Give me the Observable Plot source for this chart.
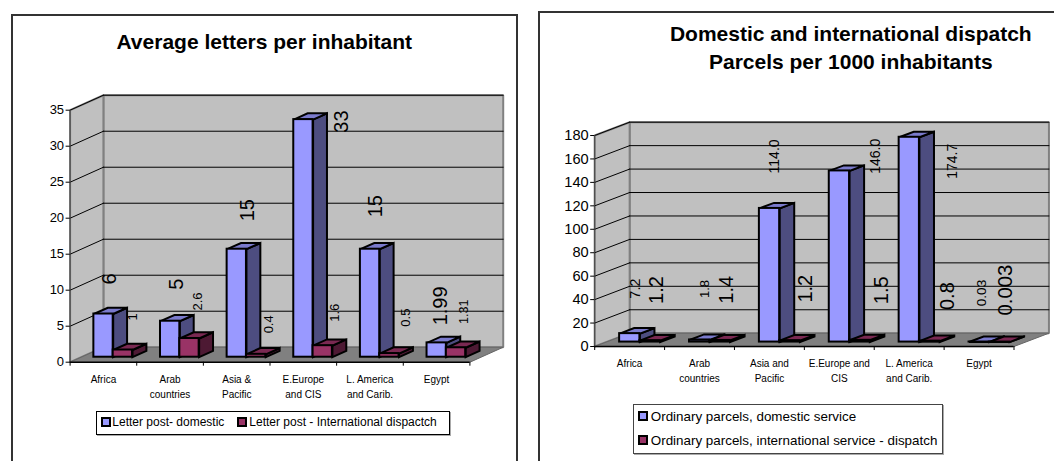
<!DOCTYPE html>
<html>
<head>
<meta charset="utf-8">
<script src="https://cdn.jsdelivr.net/npm/d3@7"></script>
<script src="https://cdn.jsdelivr.net/npm/@observablehq/plot@0.6"></script>
<style>
  html, body { margin: 0; padding: 0; background: #fff; }
  body { font-family: "Liberation Sans", Arial, sans-serif; color: #000; }
  #page { position: relative; width: 1054px; height: 461px; overflow: hidden; }
  #page svg { position: absolute; top: 0; overflow: visible; background: transparent; }
  .frame { position: absolute; border: 2px solid #333; box-sizing: border-box; background: #fff; }
  .title { position: absolute; transform: translate(-50%, -50%); font-weight: bold; font-size: 21px; white-space: nowrap; z-index: 2; }
  .legend { position: absolute; background: #fff; box-sizing: border-box; z-index: 2; }
  .entry { position: absolute; white-space: nowrap; transform: translateY(-50%); }
  .swatch { position: absolute; box-sizing: border-box; border: 2px solid #000; transform: translateY(-50%); }
</style>
</head>
<body>
<div id="page"></div>
<script>
// Letters per inhabitant
const letterCategories = ["Africa", "Arab\ncountries", "Asia &\nPacific", "E.Europe\nand CIS", "L. America\nand Carib.", "Egypt"];
const letterDomestic = [6, 5, 15, 33, 15, 1.99];
const letterInternational = [1, 2.6, 0.4, 1.6, 0.5, 1.31];
const letterTicks = [0, 5, 10, 15, 20, 25, 30, 35];

// Parcels per 1000 inhabitants
const parcelCategories = ["Africa", "Arab\ncountries", "Asia and\nPacific", "E.Europe and\nCIS", "L. America\nand Carib.", "Egypt"];
const parcelDomestic = [7.2, 1.8, 114, 146, 174.7, 0.03];
const parcelInternational = [1.2, 1.4, 1.2, 1.5, 0.8, 0.003];
const parcelTicks = [0, 20, 40, 60, 80, 100, 120, 140, 160, 180];

// Data-label placement, in pixels from the top-centre of each bar: [dx, dy, font size]
const letterDomesticLabels = [[6, -35, 20], [6.5, -37, 20], [10.4, -39, 20], [38.5, 2, 20], [5.7, -43, 20], [3.5, -37, 20]];
const letterInternationalLabels = [[10, -33, 13], [8.7, -37, 13], [12.6, -30, 13], [12.4, -33, 13], [16.2, -36, 13], [8, -36, 12.5]];
const parcelDomesticLabels = [[5.6, -45, 14.4], [4.7, -51, 13], [4.6, -52, 14], [36, -14.6, 14], [43.3, 24, 14], [2.6, -49, 13.7]];
const parcelInternationalLabels = [[7, -50.6, 20], [6.8, -50.7, 20], [15.8, -52, 20], [22, -50, 20], [18, -45, 20], [6, -52, 20.4]];

// Series palette: front, side and top faces of a bar
const blueFaces = { front: "#9999ff", side: "#4d4d80", top: "#7a7acc" };
const redFaces = { front: "#993366", side: "#4d1933", top: "#7a2952" };

// Oblique box geometry: bars sit between these fractions of the floor's depth
const depthNear = 1 / 3;
const depthFar = 0.75;
const barGap = 0.19;
const barWidth = 0.29;
const wallDepthX = 0.5;

const labelText = (v) => (v >= 100 ? v.toFixed(1) : String(v));

function drawChart({categories, domestic, international, ticks, domesticLabels, internationalLabels,
                    left, width, marginLeft, marginRight, marginTop, marginBottom, wallDepthY, tickFont}) {
  const yMax = d3.max(ticks);
  const n = categories.length;
  const at = (x, y, d) => ({x: x + d * wallDepthX, y: y + d * wallDepthY});
  const poly = (rows) => rows.flatMap((pts, id) => pts.map((p) => ({...at(...p), id})));

  const grid = ticks.filter((t) => t > 0).flatMap((t) => [
    [[0, t, 0], [0, t, 1]],
    [[0, t, 1], [n, t, 1]]
  ]);

  const faceRows = (values, slot) => values.map((v, i) => ({
    v, i,
    x1: i + barGap + slot * barWidth,
    x2: i + barGap + (slot + 1) * barWidth
  }));
  const sideFaces = (rows) => poly(rows.map(({v, x2}) => [[x2, 0, depthNear], [x2, 0, depthFar], [x2, v, depthFar], [x2, v, depthNear]]));
  const topFaces = (rows) => poly(rows.map(({v, x1, x2}) => [[x1, v, depthNear], [x2, v, depthNear], [x2, v, depthFar], [x1, v, depthFar]]));

  const face = (data, fill) => Plot.line(data, {
    x: "x", y: "y", z: "id", curve: "linear-closed", fill, stroke: "#000",
    strokeWidth: 2, strokeLinejoin: "miter", strokeMiterlimit: 4
  });
  const front = (rows, fill) => Plot.rect(rows, {
    x1: (d) => d.x1 + depthNear * wallDepthX,
    x2: (d) => d.x2 + depthNear * wallDepthX,
    y1: depthNear * wallDepthY,
    y2: (d) => d.v + depthNear * wallDepthY,
    fill, stroke: "#000", strokeWidth: 2
  });
  const labels = (rows, placement) => rows.map((row, i) => Plot.text([row], {
    x: (d) => (d.x1 + d.x2) / 2 + depthNear * wallDepthX,
    y: (d) => d.v + depthNear * wallDepthY,
    text: (d) => labelText(d.v),
    rotate: -90,
    dx: placement[i][0],
    dy: placement[i][1],
    fontSize: placement[i][2],
    fill: "#000"
  }));

  const blue = faceRows(domestic, 0);
  const red = faceRows(international, 1);

  const wall = (pts, fill) => Plot.line(poly([pts]), {
    x: "x", y: "y", z: "id", curve: "linear-closed", fill,
    stroke: "#808080", strokeWidth: 2, strokeLinejoin: "miter"
  });

  const svg = Plot.plot({
    width, height: 461, marginLeft, marginRight, marginTop, marginBottom,
    x: {domain: [0, n]},
    y: {domain: [0, yMax]},
    style: {fontFamily: "'Liberation Sans', Arial, sans-serif", color: "#000", background: "transparent"},
    marks: [
      wall([[0, 0, 1], [n, 0, 1], [n, yMax, 1], [0, yMax, 1]], "#c0c0c0"),
      wall([[0, 0, 0], [0, 0, 1], [0, yMax, 1], [0, yMax, 0]], "#c0c0c0"),
      Plot.line(poly([[[0, 0, 0], [0, 0, 1], [n, 0, 1], [n, 0, 0]]]), {
        x: "x", y: "y", z: "id", curve: "linear-closed", fill: "#808080", stroke: "#666", strokeWidth: 1
      }),
      Plot.line(poly(grid), {x: "x", y: "y", z: "id", stroke: "#000", strokeWidth: 1}),
      face(sideFaces(blue), blueFaces.side),
      face(topFaces(blue), blueFaces.top),
      face(sideFaces(red), redFaces.side),
      face(topFaces(red), redFaces.top),
      front(blue, blueFaces.front),
      front(red, redFaces.front),
      Plot.ruleX([0], {y1: 0, y2: yMax, stroke: "#444", strokeWidth: 1}),
      Plot.ruleY([0], {x1: 0, x2: n, stroke: "#000", strokeWidth: 1.5}),
      Plot.axisY({ticks, tickSize: 4, tickPadding: 2, fontSize: tickFont, label: null, tickFormat: (d) => String(d)}),
      Plot.axisX({ticks: d3.range(n + 1), tickSize: 4, tickFormat: () => "", label: null}),
      Plot.axisX({
        ticks: d3.range(n).map((i) => i + 0.5),
        tickSize: 0, tickPadding: 10, fontSize: 10, lineHeight: 1.5, label: null,
        tickFormat: (d) => categories[Math.floor(d)]
      }),
      ...labels(blue, domesticLabels),
      ...labels(red, internationalLabels)
    ]
  });
  svg.style.left = left + "px";
  svg.style.zIndex = 1;
  return svg;
}

const page = document.getElementById("page");

function box(cls, css, text) {
  const el = document.createElement("div");
  el.className = cls;
  el.style.cssText = css;
  if (text) el.textContent = text;
  return el;
}

// Panel frames and chart titles
page.append(box("frame", "left:11px;top:14px;width:507px;height:460px"));
page.append(box("frame", "left:538px;top:11px;width:530px;height:460px"));
page.append(box("title", "left:264.3px;top:41.5px", "Average letters per inhabitant"));
page.append(box("title", "left:850.8px;top:34px", "Domestic and international dispatch"));
page.append(box("title", "left:850.8px;top:61.5px", "Parcels per 1000 inhabitants"));

page.append(drawChart({
  categories: letterCategories, domestic: letterDomestic, international: letterInternational, ticks: letterTicks,
  domesticLabels: letterDomesticLabels, internationalLabels: letterInternationalLabels,
  left: 0, width: 527, marginLeft: 69.6, marginRight: 57.6, marginTop: 109.7, marginBottom: 99.3,
  wallDepthY: 2.08, tickFont: 13
}));
page.append(drawChart({
  categories: parcelCategories, domestic: parcelDomestic, international: parcelInternational, ticks: parcelTicks,
  domesticLabels: parcelDomesticLabels, internationalLabels: parcelInternationalLabels,
  left: 527, width: 527, marginLeft: 67.2, marginRight: 40.5, marginTop: 135, marginBottom: 115,
  wallDepthY: 11.35, tickFont: 14.6
}));

// Legends
function legend(css, entries, font) {
  const el = box("legend", css);
  entries.forEach(({label, fill, swatchX, textX, y}) => {
    const s = box("swatch", `left:${swatchX}px;top:${y}px;width:10px;height:10px;background:${fill}`);
    const t = box("entry", `left:${textX}px;top:${y}px;font-size:${font}px`, label);
    el.append(s, t);
  });
  page.append(el);
}
legend("left:95.8px;top:410.5px;width:354px;height:24px;border:1px solid #000;box-shadow:1px 1px 0 #aaa", [
  {label: "Letter post- domestic", fill: blueFaces.front, swatchX: 4.5, textX: 15.5, y: 10.5},
  {label: "Letter post - International dispactch", fill: redFaces.front, swatchX: 140, textX: 152.5, y: 10.5}
], 12);
legend("left:632.8px;top:404px;width:310px;height:49.5px;border:1px solid #444;box-shadow:1px 1px 0 #aaa", [
  {label: "Ordinary parcels, domestic service", fill: blueFaces.front, swatchX: 4.5, textX: 17, y: 11},
  {label: "Ordinary parcels, international service - dispatch", fill: redFaces.front, swatchX: 4.5, textX: 17, y: 35}
], 13.4);
</script>
</body>
</html>
